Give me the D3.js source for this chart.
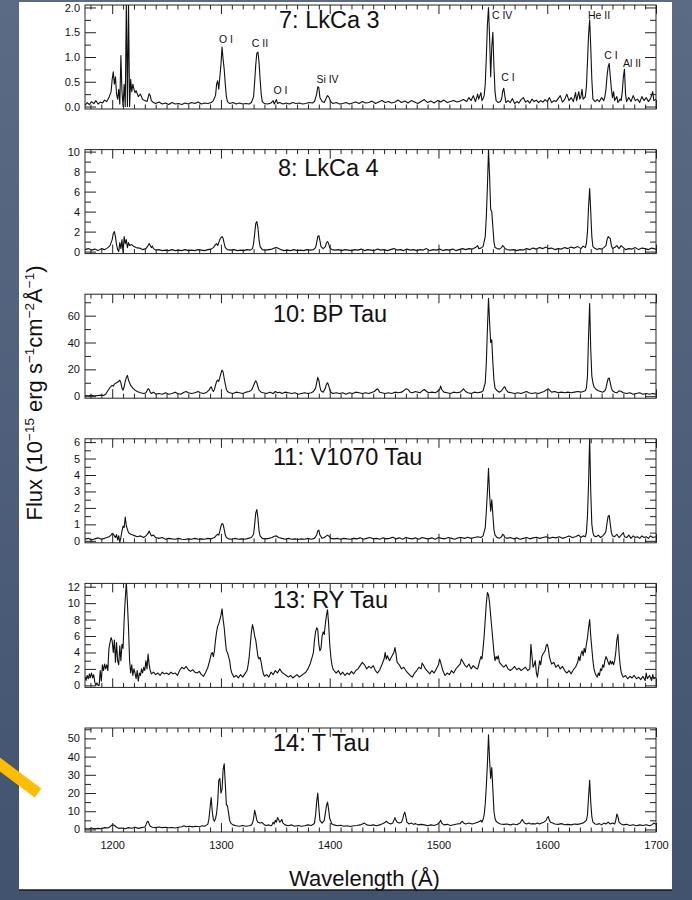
<!DOCTYPE html>
<html><head><meta charset="utf-8">
<script src="https://cdn.jsdelivr.net/npm/d3@7"></script>
<style>body{margin:0;background:#4d5e7a;} svg{display:block}</style>
</head><body>
<svg id="c" width="692" height="900"></svg>
<script>
// ---------------- DATA ----------------
const titles = ["7: LkCa 3", "8: LkCa 4", "10: BP Tau", "11: V1070 Tau", "13: RY Tau", "14: T Tau"];
const yDomains = [[-0.05, 2.05], [-0.2, 10.2], [-1.5, 76], [-0.12, 6.2], [-0.25, 12.4], [-1.4, 55.7]];
const yTickLabels = [[0, 0.5, 1, 1.5, 2], [0, 2, 4, 6, 8, 10], [0, 20, 40, 60], [0, 1, 2, 3, 4, 5, 6], [0, 2, 4, 6, 8, 10, 12], [0, 10, 20, 30, 40, 50]];
const yMinorTicks = [[0.25, 0.75, 1.25, 1.75], [1, 3, 5, 7, 9], [10, 30, 50, 70], [0.5, 1.5, 2.5, 3.5, 4.5, 5.5], [1, 3, 5, 7, 9, 11], [5, 15, 25, 35, 45, 55]];
const xDomain = [1175, 1700];
const xTickLabels = [1200, 1300, 1400, 1500, 1600, 1700];
const xMinorTicks = d3.range(1180, 1701, 10);
const lineLabels = [
  ["O I", 1304.6, 1.28], ["C II", 1335.9, 1.20], ["O I", 1354.7, 0.25], ["Si IV", 1398, 0.47],
  ["C IV", 1558.5, 1.77], ["C I", 1563.9, 0.52], ["He II", 1647.6, 1.77], ["C I", 1658.6, 0.96], ["Al II", 1677.9, 0.80]
];

const lkca3 = [[1175,0.02],[1177,0.08],[1179,0.04],[1181,0.10],[1183,0.06],[1185,0.12],[1187,0.05],[1189,0.09],[1191,0.07],[1193,0.13],[1195,0.10],[1197,0.18],[1199,0.30],[1200,0.55],[1201,0.70],[1202,0.45],[1203,0.60],[1204,0.25],[1205,0.15],[1206,0.35],[1207,0.05],[1208,1.03],[1209,0.30],[1210,0.00],[1211,0.45],[1212,0.00],[1213,2.10],[1214,0.00],[1215,2.10],[1216,0.00],[1217,0.55],[1218,0.30],[1219,0.45],[1220,0.35],[1221,0.28],[1222,0.32],[1224,0.20],[1226,0.25],[1228,0.14],[1230,0.12],[1232,0.10],[1233,0.18],[1234,0.26],[1235,0.22],[1236,0.12],[1238,0.08],[1240,0.06],[1243,0.09],[1246,0.05],[1249,0.07],[1252,0.04],[1255,0.08],[1258,0.05],[1261,0.06],[1264,0.04],[1267,0.07],[1270,0.05],[1273,0.08],[1276,0.06],[1279,0.09],[1282,0.05],[1285,0.07],[1288,0.06],[1291,0.08],[1293,0.12],[1295,0.22],[1296,0.45],[1297,0.52],[1298,0.35],[1299,0.60],[1300,0.85],[1301,1.20],[1302,0.95],[1303,0.75],[1304,0.45],[1305,0.20],[1306,0.10],[1308,0.06],[1311,0.08],[1314,0.05],[1317,0.07],[1320,0.05],[1323,0.06],[1326,0.05],[1328,0.08],[1330,0.20],[1331,0.50],[1332,0.85],[1333,1.08],[1334,1.10],[1335,0.90],[1336,0.55],[1337,0.25],[1338,0.10],[1340,0.06],[1343,0.05],[1346,0.07],[1348,0.12],[1349,0.05],[1351,0.14],[1352,0.06],[1354,0.08],[1357,0.05],[1360,0.07],[1363,0.05],[1366,0.08],[1369,0.06],[1372,0.07],[1375,0.05],[1378,0.06],[1381,0.08],[1384,0.07],[1386,0.10],[1388,0.25],[1389,0.40],[1390,0.38],[1391,0.18],[1393,0.10],[1395,0.08],[1397,0.18],[1398,0.22],[1399,0.20],[1401,0.10],[1403,0.06],[1406,0.08],[1409,0.05],[1412,0.06],[1415,0.08],[1418,0.05],[1421,0.07],[1424,0.09],[1427,0.06],[1430,0.10],[1433,0.07],[1436,0.08],[1439,0.11],[1442,0.06],[1445,0.09],[1448,0.12],[1451,0.08],[1454,0.10],[1457,0.07],[1460,0.09],[1463,0.13],[1466,0.08],[1469,0.11],[1472,0.07],[1475,0.12],[1478,0.09],[1481,0.06],[1484,0.10],[1487,0.14],[1490,0.08],[1493,0.11],[1496,0.07],[1499,0.12],[1502,0.09],[1505,0.13],[1508,0.08],[1511,0.10],[1514,0.12],[1517,0.09],[1520,0.11],[1523,0.14],[1526,0.10],[1528,0.18],[1530,0.12],[1532,0.22],[1534,0.10],[1536,0.25],[1537,0.15],[1539,0.28],[1540,0.12],[1541,0.16],[1542,0.22],[1543,0.45],[1544,1.00],[1545,1.65],[1546,2.00],[1547,1.40],[1548,0.60],[1549,1.20],[1550,1.50],[1551,0.80],[1552,0.30],[1553,0.12],[1555,0.08],[1557,0.10],[1558,0.15],[1559,0.30],[1560,0.37],[1561,0.22],[1562,0.08],[1564,0.12],[1566,0.08],[1568,0.16],[1570,0.06],[1572,0.10],[1574,0.07],[1576,0.14],[1578,0.18],[1580,0.09],[1582,0.12],[1584,0.07],[1586,0.15],[1588,0.10],[1590,0.13],[1592,0.08],[1594,0.12],[1596,0.09],[1598,0.14],[1600,0.10],[1602,0.18],[1604,0.08],[1606,0.12],[1608,0.10],[1610,0.16],[1612,0.22],[1614,0.09],[1616,0.14],[1618,0.25],[1620,0.12],[1622,0.18],[1624,0.10],[1626,0.28],[1627,0.12],[1629,0.30],[1630,0.15],[1631,0.20],[1632,0.35],[1633,0.15],[1635,0.20],[1636,0.40],[1637,0.90],[1638,1.45],[1639,1.75],[1640,1.20],[1641,0.55],[1642,0.15],[1644,0.10],[1646,0.14],[1648,0.10],[1650,0.18],[1652,0.12],[1653,0.20],[1654,0.35],[1655,0.62],[1656,0.80],[1657,0.87],[1658,0.60],[1659,0.35],[1660,0.18],[1661,0.30],[1662,0.12],[1664,0.20],[1665,0.08],[1667,0.15],[1668,0.12],[1669,0.30],[1670,0.60],[1671,0.75],[1672,0.25],[1673,0.10],[1675,0.18],[1677,0.10],[1679,0.22],[1681,0.12],[1683,0.15],[1685,0.08],[1687,0.20],[1689,0.12],[1691,0.18],[1693,0.10],[1695,0.16],[1697,0.30],[1698,0.12],[1700,0.15]];

const lkca4 = [[1175,0.2],[1178,0.3],[1181,0.15],[1184,0.25],[1187,0.1],[1190,0.3],[1193,0.2],[1196,0.4],[1198,0.6],[1200,1.2],[1201,1.8],[1202,2.0],[1203,1.5],[1204,0.7],[1205,0.2],[1206,0.0],[1207,0.9],[1208,0.3],[1209,1.2],[1210,-0.1],[1211,1.5],[1212,0.8],[1213,1.2],[1214,0.4],[1215,0.9],[1216,0.6],[1218,0.7],[1220,0.5],[1222,0.4],[1225,0.35],[1228,0.2],[1231,0.3],[1233,0.6],[1234,0.8],[1235,0.6],[1236,0.4],[1237,0.55],[1238,0.3],[1240,0.15],[1243,0.2],[1246,0.1],[1249,0.15],[1252,0.1],[1255,0.2],[1258,0.1],[1261,0.15],[1264,0.1],[1267,0.2],[1270,0.1],[1273,0.15],[1276,0.1],[1279,0.2],[1282,0.15],[1285,0.1],[1288,0.2],[1291,0.25],[1293,0.4],[1295,0.7],[1296,0.8],[1297,0.6],[1298,0.9],[1299,1.2],[1300,1.4],[1301,1.5],[1302,1.3],[1303,0.8],[1304,0.4],[1306,0.2],[1309,0.15],[1312,0.2],[1315,0.1],[1318,0.15],[1321,0.1],[1324,0.2],[1327,0.15],[1329,0.3],[1330,0.8],[1331,1.8],[1332,2.8],[1333,3.0],[1334,2.4],[1335,1.2],[1336,0.5],[1338,0.2],[1341,0.15],[1344,0.2],[1347,0.25],[1349,0.35],[1351,0.4],[1353,0.3],[1355,0.2],[1358,0.1],[1361,0.15],[1364,0.1],[1367,0.2],[1370,0.1],[1373,0.15],[1376,0.1],[1379,0.2],[1382,0.15],[1385,0.2],[1387,0.4],[1388,0.9],[1389,1.5],[1390,1.6],[1391,1.1],[1392,0.5],[1394,0.3],[1396,0.5],[1397,0.9],[1398,1.0],[1399,0.8],[1400,0.4],[1402,0.2],[1405,0.15],[1408,0.2],[1411,0.1],[1414,0.2],[1417,0.15],[1420,0.1],[1423,0.2],[1426,0.15],[1429,0.25],[1432,0.1],[1435,0.2],[1438,0.15],[1441,0.1],[1444,0.25],[1447,0.15],[1450,0.2],[1453,0.1],[1456,0.2],[1459,0.3],[1462,0.15],[1465,0.2],[1468,0.1],[1471,0.25],[1474,0.15],[1477,0.2],[1480,0.1],[1483,0.2],[1486,0.15],[1489,0.3],[1492,0.1],[1495,0.2],[1498,0.15],[1501,0.25],[1504,0.1],[1507,0.2],[1510,0.15],[1513,0.25],[1516,0.1],[1519,0.2],[1522,0.3],[1525,0.2],[1528,0.3],[1531,0.25],[1534,0.4],[1536,0.6],[1537,0.3],[1539,0.35],[1541,0.5],[1543,1.5],[1544,3.5],[1545,6.5],[1546,10.2],[1547,7.5],[1548,4.2],[1549,4.0],[1550,2.5],[1551,1.0],[1552,0.4],[1554,0.3],[1556,0.25],[1558,0.4],[1559,0.6],[1560,0.5],[1561,0.3],[1563,0.2],[1566,0.15],[1569,0.2],[1572,0.1],[1575,0.2],[1578,0.15],[1581,0.3],[1584,0.2],[1587,0.35],[1590,0.25],[1593,0.4],[1596,0.3],[1599,0.45],[1601,0.3],[1604,0.35],[1607,0.2],[1610,0.3],[1613,0.25],[1616,0.4],[1619,0.3],[1622,0.45],[1625,0.35],[1628,0.5],[1631,0.3],[1633,0.55],[1635,0.4],[1636,0.8],[1637,2.0],[1638,4.5],[1639,6.3],[1640,4.0],[1641,1.5],[1642,0.5],[1644,0.3],[1646,0.2],[1648,0.3],[1650,0.25],[1652,0.4],[1654,0.6],[1655,1.2],[1656,1.5],[1657,1.4],[1658,1.3],[1659,0.6],[1660,0.3],[1662,0.4],[1664,0.6],[1666,0.3],[1668,0.6],[1670,0.4],[1672,0.2],[1675,0.3],[1678,0.25],[1681,0.4],[1684,0.2],[1687,0.35],[1690,0.3],[1693,0.2],[1696,0.35],[1700,0.25]];

const bptau = [[1175,0.5],[1178,0.3],[1181,0.6],[1184,0.2],[1187,0.5],[1190,0.8],[1192,0.5],[1194,1.5],[1196,4],[1198,6.5],[1200,8],[1201,7.5],[1202,9],[1204,10],[1206,11],[1207,12],[1208,10],[1209,6],[1210,4.5],[1211,7],[1212,11],[1213,14],[1214,15.5],[1215,12],[1216,10],[1217,8],[1219,6],[1221,4.5],[1223,3.5],[1226,2.5],[1229,2],[1231,2.5],[1232,4],[1233,5.5],[1234,5],[1235,3],[1236,2],[1238,3],[1240,1.5],[1243,2],[1246,1.5],[1249,2.5],[1252,1.5],[1255,2],[1258,3],[1260,2],[1263,1.5],[1266,3],[1268,3.5],[1270,2.5],[1273,2],[1276,2.5],[1279,3.5],[1281,2.5],[1284,2],[1287,3],[1289,4.5],[1290,6],[1291,7],[1292,5],[1293,3.5],[1294,5],[1295,8],[1296,11],[1297,12],[1298,11],[1299,14],[1300,17],[1301,19.5],[1302,18],[1303,13],[1304,9],[1305,5],[1306,3.5],[1308,2.5],[1311,2],[1314,3],[1317,2.5],[1320,2],[1323,3],[1326,3.5],[1328,4.5],[1329,6],[1330,8],[1331,10],[1332,11.5],[1333,10],[1334,7],[1335,4.5],[1337,3],[1339,2.5],[1342,2],[1345,3],[1348,2],[1350,3.5],[1352,2.5],[1354,3],[1356,2],[1359,3],[1362,2.5],[1365,2],[1368,2.5],[1371,1.5],[1374,2],[1377,2.5],[1380,2],[1383,2.5],[1385,3.5],[1387,6],[1388,10],[1389,14],[1390,12],[1391,7],[1392,4],[1394,3],[1396,6],[1397,9],[1398,10],[1399,8],[1400,5],[1401,3],[1403,2],[1406,2.5],[1409,2],[1412,2.5],[1415,1.5],[1418,2.5],[1421,2],[1424,3],[1427,2.5],[1430,2],[1433,2.5],[1436,2],[1439,3],[1441,3.5],[1443,5],[1444,5.5],[1446,3],[1448,2.5],[1451,2],[1454,2.5],[1457,2],[1460,3],[1463,2.5],[1466,3],[1468,4],[1470,5.5],[1472,5],[1474,3],[1476,2.5],[1479,3.5],[1481,3],[1483,2.5],[1485,4],[1487,5],[1489,3.5],[1491,2.5],[1494,3],[1497,2.5],[1499,3.5],[1501,5],[1502,7.5],[1503,5],[1505,3],[1508,2.5],[1511,2],[1514,3],[1517,2.5],[1520,3],[1522,4.5],[1523,5.5],[1525,3.5],[1527,2.5],[1530,2],[1533,3],[1536,2.5],[1539,3],[1541,4],[1543,10],[1544,25],[1545,50],[1546,73],[1547,55],[1548,40],[1549,42],[1550,25],[1551,12],[1552,6],[1554,4],[1556,3],[1558,4],[1560,6.5],[1561,7],[1562,5],[1564,3],[1567,2.5],[1570,2],[1573,2.5],[1576,2],[1579,3],[1581,3.5],[1583,2.5],[1586,2],[1589,2.5],[1592,2],[1595,3],[1597,3.5],[1599,4.5],[1601,5.5],[1602,4.5],[1604,3],[1607,3.5],[1610,2.5],[1613,3],[1616,2.5],[1619,3],[1622,2.5],[1625,3],[1628,3.5],[1631,3],[1633,3.5],[1635,4],[1636,6],[1637,15],[1638,45],[1639,69],[1640,35],[1641,15],[1642,10],[1643,7],[1645,5],[1647,4],[1649,3.5],[1651,3],[1653,4],[1654,6],[1655,10],[1656,13],[1657,13.5],[1658,10],[1659,6],[1660,4],[1662,3],[1664,2.5],[1666,4],[1668,3.5],[1670,2.5],[1673,2],[1676,2.5],[1679,1.5],[1682,2],[1685,2.5],[1688,1.5],[1691,2],[1694,1.5],[1697,2],[1700,1.5]];

const v1070tau = [[1175,0.1],[1178,0.15],[1181,0.05],[1184,0.12],[1187,0.18],[1190,0.1],[1193,0.15],[1195,0.2],[1197,0.25],[1199,0.35],[1200,0.45],[1201,0.42],[1202,0.3],[1203,0.2],[1204,0.38],[1205,0.05],[1206,0.3],[1207,-0.1],[1208,0.2],[1209,0.6],[1210,0.9],[1211,0.8],[1212,1.45],[1213,0.9],[1214,0.7],[1215,0.5],[1217,0.4],[1219,0.35],[1221,0.3],[1223,0.25],[1226,0.3],[1229,0.2],[1231,0.3],[1233,0.45],[1234,0.6],[1235,0.45],[1236,0.3],[1238,0.35],[1240,0.2],[1243,0.15],[1246,0.2],[1249,0.1],[1252,0.15],[1255,0.12],[1258,0.1],[1261,0.15],[1264,0.1],[1267,0.08],[1270,0.12],[1273,0.1],[1276,0.15],[1279,0.1],[1282,0.12],[1285,0.1],[1288,0.15],[1291,0.12],[1294,0.2],[1296,0.35],[1297,0.4],[1298,0.35],[1299,0.6],[1300,0.9],[1301,1.05],[1302,1.0],[1303,0.7],[1304,0.35],[1305,0.2],[1307,0.12],[1310,0.1],[1313,0.15],[1316,0.1],[1319,0.12],[1322,0.1],[1325,0.15],[1328,0.2],[1330,0.4],[1331,1.0],[1332,1.7],[1333,1.9],[1334,1.4],[1335,0.6],[1336,0.3],[1338,0.15],[1341,0.12],[1344,0.15],[1347,0.2],[1349,0.28],[1351,0.3],[1353,0.2],[1356,0.15],[1359,0.1],[1362,0.15],[1365,0.1],[1368,0.12],[1371,0.08],[1374,0.12],[1377,0.1],[1380,0.15],[1383,0.1],[1386,0.15],[1388,0.35],[1389,0.6],[1390,0.65],[1391,0.35],[1393,0.15],[1395,0.2],[1397,0.3],[1398,0.35],[1399,0.3],[1401,0.15],[1404,0.12],[1407,0.15],[1410,0.1],[1413,0.15],[1416,0.12],[1419,0.1],[1422,0.15],[1425,0.12],[1428,0.18],[1431,0.1],[1434,0.15],[1437,0.2],[1440,0.12],[1443,0.15],[1446,0.1],[1449,0.18],[1452,0.12],[1455,0.15],[1458,0.22],[1461,0.12],[1464,0.18],[1467,0.1],[1470,0.2],[1473,0.15],[1476,0.12],[1479,0.18],[1482,0.1],[1485,0.2],[1488,0.15],[1491,0.12],[1494,0.18],[1497,0.1],[1500,0.2],[1503,0.15],[1506,0.12],[1509,0.2],[1512,0.15],[1515,0.1],[1518,0.18],[1521,0.2],[1524,0.15],[1527,0.22],[1530,0.15],[1533,0.2],[1536,0.25],[1539,0.2],[1541,0.3],[1543,0.8],[1544,1.8],[1545,3.0],[1546,4.4],[1547,2.8],[1548,1.8],[1549,2.5],[1550,1.6],[1551,0.7],[1552,0.35],[1554,0.2],[1556,0.15],[1558,0.25],[1559,0.4],[1560,0.35],[1561,0.2],[1563,0.15],[1566,0.2],[1569,0.12],[1572,0.18],[1575,0.1],[1578,0.15],[1581,0.2],[1584,0.12],[1587,0.18],[1590,0.22],[1593,0.15],[1596,0.2],[1599,0.25],[1602,0.15],[1605,0.22],[1608,0.18],[1611,0.25],[1614,0.15],[1617,0.22],[1620,0.3],[1623,0.2],[1626,0.25],[1629,0.35],[1631,0.2],[1633,0.3],[1635,0.25],[1636,0.5],[1637,1.5],[1638,3.5],[1639,6.3],[1640,3.0],[1641,1.0],[1642,0.5],[1643,0.3],[1645,0.25],[1647,0.35],[1649,0.2],[1651,0.3],[1653,0.45],[1654,0.6],[1655,1.1],[1656,1.5],[1657,1.55],[1658,1.0],[1659,0.5],[1660,0.3],[1662,0.25],[1664,0.4],[1666,0.2],[1668,0.35],[1670,0.5],[1671,0.25],[1673,0.2],[1675,0.35],[1677,0.15],[1679,0.3],[1681,0.2],[1683,0.25],[1685,0.15],[1687,0.3],[1689,0.2],[1691,0.25],[1693,0.15],[1695,0.3],[1697,0.2],[1700,0.25]];

const rytau = [[1175,1.0],[1176,0.6],[1177,1.2],[1178,0.8],[1179,1.4],[1180,1.0],[1181,1.5],[1182,0.9],[1183,1.3],[1184,0.4],[1185,0.0],[1186,0.3],[1187,0.0],[1188,0.0],[1189,1.8],[1190,0.5],[1191,2.5],[1192,1.8],[1193,2.6],[1194,2.0],[1195,2.5],[1196,1.8],[1197,4.5],[1198,5.2],[1199,5.8],[1200,5.4],[1201,4.0],[1202,5.5],[1203,2.8],[1204,5.2],[1205,3.0],[1206,2.5],[1207,4.8],[1208,3.0],[1209,5.0],[1210,4.5],[1211,8.0],[1212,10.5],[1213,12.5],[1214,10.0],[1215,7.0],[1216,3.0],[1217,1.5],[1218,2.5],[1219,1.2],[1220,2.0],[1221,1.5],[1222,0.8],[1223,1.8],[1224,0.5],[1225,1.5],[1226,1.2],[1227,2.0],[1228,1.5],[1229,2.2],[1230,1.8],[1231,3.0],[1232,2.0],[1233,3.8],[1234,2.5],[1235,1.8],[1236,1.4],[1238,1.6],[1240,1.3],[1242,1.5],[1244,1.2],[1246,1.6],[1248,1.4],[1250,1.5],[1252,1.3],[1254,1.6],[1256,1.4],[1258,1.5],[1260,1.2],[1262,1.8],[1264,2.2],[1266,2.0],[1268,2.3],[1270,1.9],[1272,1.7],[1274,1.9],[1276,1.6],[1278,1.5],[1280,1.7],[1282,1.3],[1284,1.1],[1286,1.6],[1288,2.2],[1290,3.2],[1291,3.8],[1292,4.0],[1293,3.5],[1294,4.2],[1295,5.5],[1296,6.5],[1297,7.2],[1298,7.5],[1299,8.0],[1300,8.5],[1301,9.3],[1302,8.0],[1303,7.0],[1304,5.5],[1305,4.2],[1306,4.0],[1307,3.5],[1308,3.0],[1309,2.0],[1310,1.5],[1312,1.0],[1314,1.2],[1316,0.9],[1318,1.3],[1320,1.0],[1322,1.4],[1324,1.8],[1325,2.5],[1326,3.5],[1327,5.0],[1328,6.5],[1329,7.4],[1330,6.8],[1331,6.0],[1332,5.5],[1333,4.5],[1334,3.5],[1335,3.2],[1336,3.4],[1337,2.8],[1338,2.0],[1339,1.4],[1340,1.1],[1342,1.3],[1344,1.0],[1346,1.6],[1348,1.3],[1350,1.8],[1352,1.5],[1354,2.0],[1356,1.6],[1358,1.4],[1360,1.2],[1362,1.0],[1364,1.2],[1366,0.9],[1368,1.1],[1370,1.3],[1372,1.0],[1374,1.2],[1376,1.4],[1378,1.6],[1380,2.0],[1382,2.6],[1384,3.5],[1385,4.0],[1386,5.5],[1387,6.5],[1388,7.0],[1389,6.8],[1390,5.0],[1391,4.2],[1392,4.5],[1393,6.0],[1394,6.5],[1395,6.2],[1396,7.5],[1397,8.5],[1398,9.2],[1399,7.5],[1400,5.0],[1401,3.5],[1402,2.5],[1403,2.0],[1404,1.8],[1406,1.5],[1408,1.8],[1410,1.3],[1412,1.6],[1414,1.2],[1416,1.5],[1418,1.3],[1420,1.7],[1422,1.4],[1424,1.8],[1426,2.0],[1428,2.4],[1430,2.8],[1432,2.5],[1434,2.0],[1436,2.3],[1438,2.1],[1440,2.4],[1442,1.8],[1444,1.5],[1446,1.9],[1448,2.5],[1450,3.2],[1451,4.0],[1452,3.2],[1453,3.6],[1455,3.0],[1457,3.5],[1459,4.0],[1460,4.6],[1461,3.8],[1462,2.8],[1464,2.5],[1466,2.0],[1468,2.2],[1470,1.8],[1472,1.5],[1474,1.2],[1476,1.0],[1478,1.5],[1480,1.8],[1482,2.2],[1484,2.0],[1485,2.7],[1486,2.5],[1488,2.0],[1490,1.7],[1492,1.4],[1494,1.8],[1496,1.5],[1498,2.0],[1500,2.5],[1501,3.2],[1502,2.8],[1504,1.8],[1506,1.2],[1508,1.5],[1510,1.3],[1512,1.8],[1514,1.5],[1516,2.0],[1518,2.3],[1520,2.6],[1521,3.2],[1522,3.0],[1524,2.5],[1526,2.2],[1528,2.6],[1530,2.0],[1532,2.4],[1534,2.1],[1536,2.0],[1538,3.0],[1539,3.5],[1540,3.2],[1541,4.5],[1542,6.0],[1543,8.0],[1544,10.0],[1545,11.3],[1546,11.0],[1547,10.0],[1548,8.5],[1549,7.0],[1550,5.5],[1551,4.0],[1552,3.0],[1553,3.5],[1554,3.2],[1555,3.6],[1556,2.8],[1558,2.5],[1560,2.2],[1562,2.5],[1564,2.0],[1566,1.8],[1568,2.0],[1570,2.3],[1572,1.9],[1574,2.1],[1576,1.8],[1578,2.0],[1580,2.2],[1582,1.8],[1584,2.0],[1585,5.0],[1586,3.5],[1587,2.2],[1588,2.5],[1589,3.0],[1590,1.5],[1591,1.0],[1592,2.0],[1593,3.0],[1594,2.5],[1595,3.5],[1596,3.8],[1597,4.0],[1598,4.2],[1599,4.8],[1600,5.0],[1601,4.5],[1602,3.5],[1603,3.0],[1604,2.6],[1606,2.8],[1608,2.2],[1610,2.5],[1612,2.0],[1614,2.3],[1616,1.8],[1618,1.5],[1620,1.8],[1622,1.4],[1624,1.9],[1626,2.2],[1628,2.8],[1629,3.5],[1630,3.0],[1631,3.8],[1632,4.2],[1633,3.6],[1634,4.5],[1635,4.0],[1636,5.0],[1637,5.8],[1638,7.0],[1639,8.0],[1640,6.0],[1641,4.5],[1642,3.0],[1643,2.0],[1644,1.5],[1645,1.2],[1646,1.0],[1647,1.5],[1648,1.2],[1649,2.0],[1650,1.8],[1651,2.5],[1652,2.2],[1653,3.0],[1654,3.5],[1655,3.2],[1656,2.8],[1657,2.5],[1658,3.0],[1659,2.6],[1660,2.9],[1661,2.5],[1662,3.0],[1663,4.0],[1664,5.5],[1665,6.2],[1666,4.0],[1667,2.5],[1668,1.6],[1669,1.2],[1670,1.0],[1672,1.2],[1674,0.8],[1676,1.1],[1678,0.9],[1680,1.2],[1682,0.8],[1684,1.0],[1686,0.7],[1688,1.1],[1690,0.6],[1691,1.5],[1692,0.8],[1694,1.2],[1696,0.6],[1697,1.3],[1698,0.8],[1700,1.0]];

const ttau = [[1175,0.5],[1178,0.2],[1181,0.8],[1184,0.3],[1187,0.6],[1190,0.4],[1193,1.0],[1196,0.8],[1198,1.5],[1200,2.5],[1202,2.3],[1204,1.2],[1206,0.6],[1209,0.8],[1212,0.4],[1215,1.0],[1218,0.7],[1221,1.2],[1224,0.6],[1227,1.0],[1230,1.3],[1231,2.5],[1232,4.0],[1233,4.5],[1234,3.0],[1235,1.8],[1237,1.2],[1240,1.0],[1243,1.3],[1246,1.0],[1249,1.2],[1252,0.9],[1255,1.1],[1258,0.8],[1261,1.2],[1264,1.5],[1266,2.0],[1268,1.5],[1271,1.8],[1274,1.4],[1277,1.8],[1280,1.5],[1283,2.0],[1285,1.8],[1287,2.5],[1288,3.0],[1289,6.0],[1290,12.0],[1291,17.5],[1292,10.0],[1293,5.5],[1294,4.5],[1295,6.0],[1296,9.0],[1297,15.0],[1298,27.0],[1299,28.0],[1300,20.0],[1301,22.0],[1302,33.0],[1303,36.0],[1304,25.0],[1305,13.5],[1306,13.0],[1307,9.0],[1308,5.0],[1309,3.5],[1311,2.5],[1314,2.0],[1317,1.8],[1320,2.2],[1323,1.8],[1326,2.0],[1328,2.5],[1329,3.5],[1330,6.0],[1331,10.5],[1332,8.0],[1333,5.0],[1334,4.0],[1336,3.5],[1338,3.8],[1340,2.5],[1342,2.2],[1344,2.5],[1346,2.0],[1347,2.5],[1348,4.0],[1349,3.0],[1350,5.0],[1351,4.0],[1352,6.5],[1353,5.5],[1354,4.0],[1355,4.5],[1356,5.5],[1357,3.5],[1359,2.5],[1362,2.0],[1365,2.5],[1368,1.8],[1371,2.2],[1374,1.8],[1377,2.0],[1380,2.5],[1383,2.2],[1385,2.8],[1386,3.5],[1387,8.0],[1388,15.0],[1389,20.0],[1390,12.0],[1391,5.0],[1393,3.5],[1395,5.0],[1396,9.0],[1397,13.0],[1398,15.0],[1399,11.0],[1400,6.0],[1402,3.0],[1404,2.5],[1407,2.0],[1410,2.3],[1413,1.8],[1416,2.0],[1419,1.6],[1422,2.0],[1425,2.2],[1428,2.5],[1430,3.0],[1432,3.5],[1434,2.5],[1437,2.2],[1440,2.5],[1443,2.0],[1446,2.5],[1448,3.0],[1450,3.5],[1452,4.5],[1454,3.5],[1456,3.0],[1458,3.5],[1459,5.0],[1460,6.5],[1461,5.0],[1462,4.0],[1464,3.5],[1466,4.0],[1467,5.5],[1468,8.0],[1469,9.5],[1470,7.0],[1471,4.0],[1473,3.0],[1475,3.5],[1477,2.8],[1479,3.2],[1481,2.5],[1484,2.8],[1487,2.5],[1490,2.0],[1493,2.5],[1496,2.2],[1499,2.8],[1501,4.0],[1502,5.0],[1503,3.5],[1505,2.5],[1508,2.8],[1511,2.2],[1514,2.6],[1517,3.0],[1520,3.2],[1521,4.0],[1522,4.5],[1523,3.5],[1525,3.0],[1528,3.5],[1531,3.0],[1534,3.5],[1536,4.0],[1538,4.5],[1539,5.0],[1540,4.0],[1541,5.5],[1542,8.0],[1543,14.0],[1544,24.0],[1545,36.0],[1546,52.0],[1547,38.0],[1548,28.0],[1549,34.0],[1550,22.0],[1551,10.0],[1552,6.0],[1553,4.5],[1555,3.5],[1557,3.0],[1560,2.8],[1563,3.0],[1566,2.5],[1569,3.0],[1572,2.6],[1575,3.5],[1576,4.5],[1577,5.5],[1578,4.5],[1579,3.5],[1581,3.0],[1583,3.5],[1585,3.0],[1587,3.2],[1589,3.0],[1591,3.5],[1593,3.0],[1595,3.5],[1597,4.0],[1599,5.0],[1600,6.5],[1601,7.0],[1602,5.0],[1603,4.0],[1605,3.5],[1607,3.0],[1610,2.8],[1613,3.2],[1616,2.6],[1619,2.8],[1622,2.5],[1625,3.0],[1628,2.8],[1631,3.2],[1633,3.5],[1635,4.5],[1636,5.0],[1637,8.0],[1638,18.0],[1639,27.0],[1640,15.0],[1641,7.0],[1642,4.0],[1644,3.0],[1646,2.8],[1648,3.2],[1650,2.5],[1652,3.5],[1654,3.0],[1656,4.0],[1658,3.0],[1660,3.5],[1662,3.0],[1663,5.0],[1664,8.5],[1665,7.0],[1666,4.0],[1668,3.0],[1670,2.5],[1673,2.8],[1676,2.2],[1679,2.6],[1682,2.0],[1685,2.5],[1688,2.2],[1691,2.6],[1694,2.0],[1696,2.5],[1698,3.5],[1700,2.8]];

const spectra = [lkca3, lkca4, bptau, v1070tau, rytau, ttau];

// ---------------- DRAW ----------------
const svg = d3.select("#c");
const W = 692, H = 900;
const defs = svg.append("defs");
const grad = defs.append("linearGradient").attr("id", "bg").attr("x1", 0).attr("y1", 0).attr("x2", 0).attr("y2", 1);
grad.append("stop").attr("offset", "0%").attr("stop-color", "#5b6b86");
grad.append("stop").attr("offset", "100%").attr("stop-color", "#42536f");
svg.append("rect").attr("width", W).attr("height", H).attr("fill", "url(#bg)");
svg.append("rect").attr("x", 19).attr("y", 2).attr("width", 653).attr("height", 888).attr("fill", "#ffffff");
svg.append("line").attr("x1", 19).attr("x2", 672).attr("y1", 890).attr("y2", 890).attr("stroke", "#1a1a1a").attr("stroke-width", 1.5);

const font = "'Liberation Sans', Arial, Helvetica, sans-serif";
const left = 85, right = 656, panelH = 104, top0 = 5, step = 144.6;
const titleX = [279, 278, 273, 273, 273, 273];
const titleDy = [23, 26, 28, 26, 25, 23];

const x = d3.scaleLinear().domain(xDomain).range([left, right]);

spectra.forEach((data, i) => {
  const top = top0 + i * step, bottom = top + panelH;
  const y = d3.scaleLinear().domain(yDomains[i]).range([bottom, top]);
  const g = svg.append("g");

  defs.append("clipPath").attr("id", "clip" + i)
    .append("rect").attr("x", left).attr("y", top).attr("width", right - left).attr("height", panelH);

  const line = d3.line().x(d => x(d[0])).y(d => y(d[1]));
  g.append("path").datum(data).attr("d", line)
    .attr("fill", "none").attr("stroke", "#111").attr("stroke-width", 1.1)
    .attr("stroke-linejoin", "round").attr("clip-path", `url(#clip${i})`);

  g.append("rect").attr("x", left).attr("y", top).attr("width", right - left).attr("height", panelH)
    .attr("fill", "none").attr("stroke", "#222").attr("stroke-width", 1);

  const styleAxis = sel => {
    sel.select(".domain").remove();
    sel.selectAll("line").attr("stroke", "#222").attr("stroke-width", 1);
    sel.selectAll("text").attr("font-family", font).attr("font-size", 11).attr("fill", "#111");
  };

  const fmt = i === 0 ? d3.format(".1f") : d3.format("d");
  g.append("g").attr("transform", `translate(${left},0)`)
    .call(d3.axisLeft(y).tickValues(yTickLabels[i]).tickSize(-11).tickPadding(5).tickFormat(fmt)).call(styleAxis);
  g.append("g").attr("transform", `translate(${left},0)`)
    .call(d3.axisLeft(y).tickValues(yMinorTicks[i]).tickSize(-6).tickFormat("")).call(styleAxis);
  g.append("g").attr("transform", `translate(${right},0)`)
    .call(d3.axisRight(y).tickValues(yTickLabels[i]).tickSize(-11).tickFormat("")).call(styleAxis);
  g.append("g").attr("transform", `translate(${right},0)`)
    .call(d3.axisRight(y).tickValues(yMinorTicks[i]).tickSize(-6).tickFormat("")).call(styleAxis);

  const last = i === spectra.length - 1;
  const minor = xMinorTicks.filter(v => v % 100 !== 0);
  g.append("g").attr("transform", `translate(0,${bottom})`)
    .call(d3.axisBottom(x).tickValues(xTickLabels).tickSize(-9).tickPadding(9).tickFormat(last ? d3.format("d") : "")).call(styleAxis);
  g.append("g").attr("transform", `translate(0,${bottom})`)
    .call(d3.axisBottom(x).tickValues(minor).tickSize(-4.5).tickFormat("")).call(styleAxis);
  g.append("g").attr("transform", `translate(0,${top})`)
    .call(d3.axisTop(x).tickValues(xTickLabels).tickSize(-9).tickFormat("")).call(styleAxis);
  g.append("g").attr("transform", `translate(0,${top})`)
    .call(d3.axisTop(x).tickValues(minor).tickSize(-4.5).tickFormat("")).call(styleAxis);

  g.append("text").attr("x", titleX[i]).attr("y", top + titleDy[i])
    .attr("font-family", font).attr("font-size", 23.5).attr("fill", "#111").text(titles[i]);

  if (i === 0) {
    g.selectAll(".ll").data(lineLabels).enter().append("text")
      .attr("x", d => x(d[1])).attr("y", d => y(d[2]))
      .attr("text-anchor", "middle").attr("font-family", font).attr("font-size", 10.5).attr("fill", "#111")
      .text(d => d[0]);
  }
});

svg.append("text").attr("x", 364.5).attr("y", 886).attr("text-anchor", "middle")
  .attr("font-family", font).attr("font-size", 22).attr("fill", "#111").text("Wavelength (Å)");

const yt = svg.append("text").attr("transform", "translate(42,393) rotate(-90)").attr("text-anchor", "middle")
  .attr("font-family", font).attr("font-size", 22).attr("fill", "#111");
const parts = [["Flux (10", false], ["−15", true], [" erg s", false], ["−1", true], ["cm", false], ["−2", true], ["Å", false], ["−1", true], [")", false]];
parts.forEach(([t, sup]) => {
  yt.append("tspan").attr("font-size", sup ? 13.5 : 22).attr("baseline-shift", sup ? "55%" : "0%").text(t);
});

svg.append("line").attr("x1", -6).attr("y1", 760).attr("x2", 38).attr("y2", 793)
  .attr("stroke", "#fdbd00").attr("stroke-width", 11);
</script>
</body></html>
